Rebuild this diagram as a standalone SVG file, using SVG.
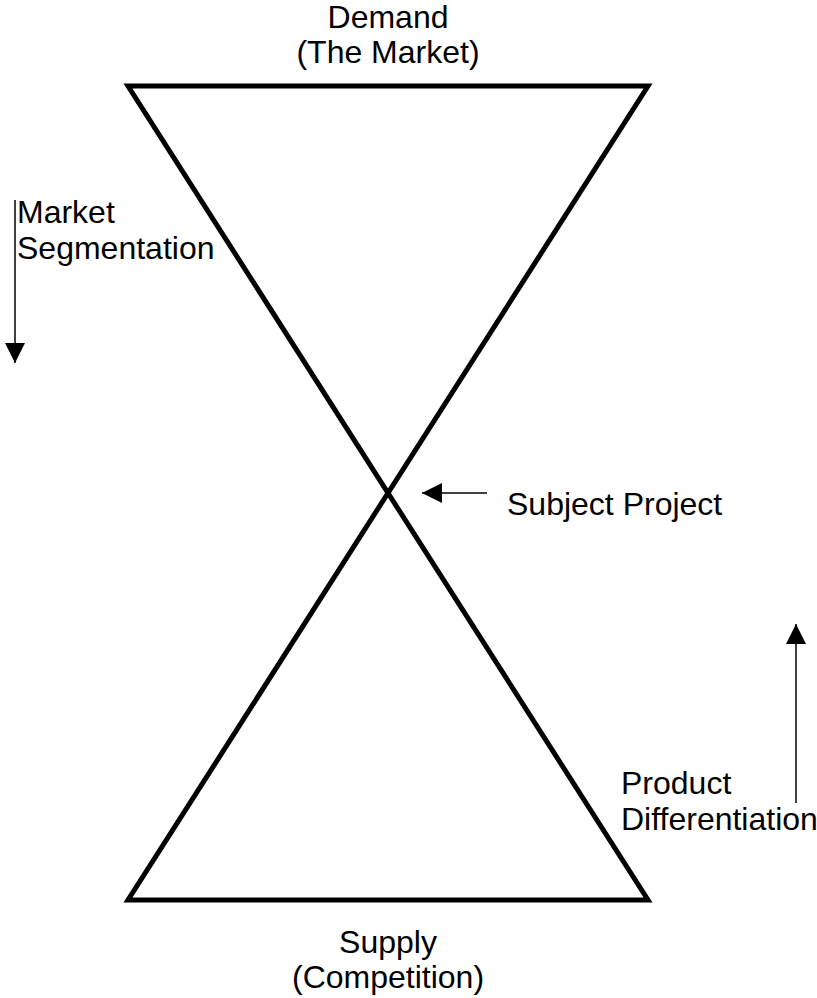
<svg xmlns="http://www.w3.org/2000/svg" width="817" height="998" viewBox="0 0 817 998">
  <style>
    .lbl { font-family: "Liberation Sans", Arial, sans-serif; font-size: 32px; fill: #000; }
    .mid { text-anchor: middle; }
    .hourglass { fill: none; stroke: #000; stroke-width: 5; stroke-linejoin: miter; }
    .arrow { stroke: #000; stroke-width: 1.5; fill: none; }
  </style>
  <defs>
    <marker id="head" viewBox="0 0 20 20" refX="20" refY="10" markerWidth="20" markerHeight="20" markerUnits="userSpaceOnUse" orient="auto">
      <path d="M0,0 L20,10 L0,20 Z" fill="#000"/>
    </marker>
  </defs>
  <rect width="817" height="998" fill="#fff"/>

  <!-- hourglass: demand funnel on top, supply funnel below -->
  <g id="hourglass">
    <path class="hourglass" d="M128,86 L648,86 L128,900 L648,900 Z"/>
  </g>

  <g id="demand">
    <text class="lbl mid" x="388" y="28">Demand</text>
    <text class="lbl mid" x="388" y="63">(The Market)</text>
  </g>

  <g id="segmentation">
    <text class="lbl" x="17" y="223">Market</text>
    <text class="lbl" x="17" y="259">Segmentation</text>
  </g>

  <g id="subject">
    <text class="lbl" x="507" y="515">Subject Project</text>
  </g>

  <g id="differentiation">
    <text class="lbl" x="621" y="794">Product</text>
    <text class="lbl" x="621" y="830">Differentiation</text>
  </g>

  <g id="supply">
    <text class="lbl mid" x="388" y="953">Supply</text>
    <text class="lbl mid" x="388" y="988">(Competition)</text>
  </g>

  <g id="connectors">
    <line class="arrow" x1="15" y1="200" x2="15" y2="363" marker-end="url(#head)"/>
    <line class="arrow" x1="487" y1="493" x2="422" y2="493" marker-end="url(#head)"/>
    <line class="arrow" x1="796" y1="803" x2="796" y2="624" marker-end="url(#head)"/>
  </g>
</svg>
